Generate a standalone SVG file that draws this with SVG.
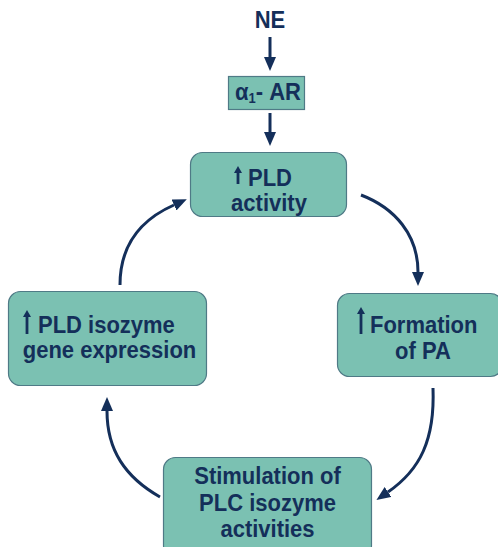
<svg xmlns="http://www.w3.org/2000/svg" width="498" height="547" viewBox="0 0 498 547">
<defs>
<style>
.box{fill:#7bc1b2;stroke:#4f7a86;stroke-width:1.2}
.t{font-family:"Liberation Sans",Arial,sans-serif;font-weight:bold;font-size:22px;fill:#142f5a}
.c{fill:none;stroke:#142f5a;stroke-width:3}
.u{fill:none;stroke:#142f5a;stroke-width:2.8}
</style>
<marker id="ah" markerUnits="userSpaceOnUse" markerWidth="14" markerHeight="12" refX="0" refY="6" orient="auto">
<path d="M0,0 L14,6 L0,12 z" fill="#142f5a"/>
</marker>
<marker id="uh" markerUnits="userSpaceOnUse" markerWidth="8" markerHeight="8" refX="0" refY="4" orient="auto">
<path d="M0,0 L7,4 L0,8 z" fill="#142f5a"/>
</marker>
</defs>
<g id="ne">
<text class="t" transform="translate(270,28) scale(1,1.1)" text-anchor="middle" font-size="24">NE</text>
</g>
<g id="ar">
<rect class="box" x="228.5" y="76.5" width="76" height="33"/>
<text class="t" transform="translate(235,100) scale(1,1.1)" font-size="20">α<tspan font-size="13" dy="3">1</tspan><tspan dy="-3">- AR</tspan></text>
</g>
<g id="pld">
<rect class="box" x="190.5" y="152.5" width="156" height="64" rx="12"/>
<path class="u" d="M238,184 V173" marker-end="url(#uh)"/>
<text class="t" transform="translate(248,186) scale(1,1.06)">PLD</text>
<text class="t" transform="translate(269,211) scale(1,1.06)" text-anchor="middle">activity</text>
</g>
<g id="pa">
<rect class="box" x="337.5" y="293.5" width="165" height="83" rx="12"/>
<path class="u" d="M361,334 V314" marker-end="url(#uh)"/>
<text class="t" transform="translate(370,333) scale(1,1.08)">Formation</text>
<text class="t" transform="translate(423,359) scale(1,1.08)" text-anchor="middle">of PA</text>
</g>
<g id="plc">
<rect class="box" x="163.5" y="457.5" width="208" height="100" rx="12"/>
<text class="t" transform="translate(267.5,484) scale(1,1.08)" text-anchor="middle">Stimulation of</text>
<text class="t" transform="translate(267.5,511) scale(1,1.08)" text-anchor="middle">PLC isozyme</text>
<text class="t" transform="translate(267.5,537) scale(1,1.08)" text-anchor="middle">activities</text>
</g>
<g id="gene">
<rect class="box" x="8.5" y="291.5" width="198" height="94" rx="12"/>
<path class="u" d="M27,334 V317" marker-end="url(#uh)"/>
<text class="t" transform="translate(38,333) scale(1,1.08)">PLD isozyme</text>
<text class="t" transform="translate(109.5,358) scale(1,1.08)" text-anchor="middle">gene expression</text>
</g>
<g id="connectors">
<path class="c" d="M270,37 V57" marker-end="url(#ah)"/>
<path class="c" d="M270,113 V132" marker-end="url(#ah)"/>
<path class="c" d="M361,195 C395,208 418,235 418,272" marker-end="url(#ah)"/>
<path class="c" d="M433,388 C435,440 420,470 388,492" marker-end="url(#ah)"/>
<path class="c" d="M160,497 C125,477 107,450 107,411" marker-end="url(#ah)"/>
<path class="c" d="M120,285 C120,245 140,220 174,205" marker-end="url(#ah)"/>
</g>
</svg>
